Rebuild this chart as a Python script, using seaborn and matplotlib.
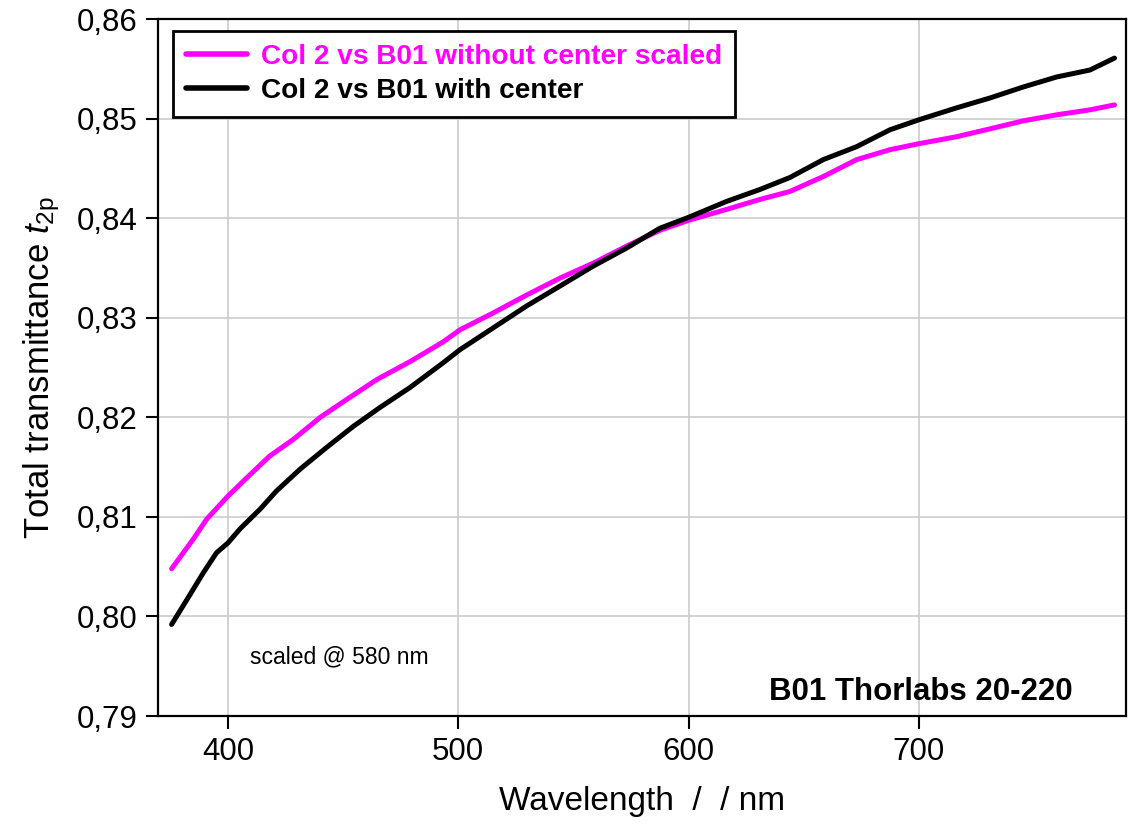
import pandas as pd
import numpy as np
import matplotlib
matplotlib.use('Agg')
import matplotlib.pyplot as plt
import seaborn as sns
from matplotlib.ticker import FuncFormatter

# values
wl_scaled = [375.5, 385, 390.8, 400, 408, 418, 428.4, 440, 451.5, 464.6, 479, 493.5,
             500.7, 515.2, 529.7, 544.2, 558.6, 573, 587.5, 600, 616.5, 631, 644,
             658.5, 673, 687.5, 700, 716.4, 731, 745.4, 759.8, 774.3, 785]
t_scaled = [0.8048, 0.8078, 0.8098, 0.8121, 0.8139, 0.8161, 0.8178, 0.8200, 0.8218,
            0.8238, 0.8256, 0.8276, 0.8288, 0.8305, 0.8323, 0.8340, 0.8355, 0.8372,
            0.8388, 0.8398, 0.8409, 0.8419, 0.8427, 0.8442, 0.8459, 0.8469, 0.8475,
            0.8482, 0.8490, 0.8498, 0.8504, 0.8509, 0.8514]

wl_center = [375.5, 383.5, 389.3, 395, 400, 405.2, 414, 421, 431.3, 442.9, 454.4, 466,
             479, 493.5, 500.7, 515.2, 529.7, 544.2, 558.6, 573, 587.5, 600, 616.5,
             631, 644, 658.5, 673, 687.5, 700, 716.4, 731, 745.4, 759.8, 774.3, 785]
t_center = [0.7992, 0.8022, 0.8044, 0.8064, 0.8074, 0.8088, 0.8108, 0.8126, 0.8148,
            0.8170, 0.8191, 0.8210, 0.8230, 0.8255, 0.8268, 0.8290, 0.8312, 0.8332,
            0.8352, 0.8370, 0.8390, 0.8401, 0.8417, 0.8429, 0.8441, 0.8459, 0.8472,
            0.8489, 0.8499, 0.8511, 0.8521, 0.8532, 0.8542, 0.8549, 0.8561]

label_scaled = 'Col 2 vs B01 without center scaled'
label_center = 'Col 2 vs B01 with center'
x_ticks = [400, 500, 600, 700]
y_ticks = [0.79, 0.80, 0.81, 0.82, 0.83, 0.84, 0.85, 0.86]

df = pd.concat([
    pd.DataFrame({'wl': wl_scaled, 't': t_scaled, 'series': label_scaled}),
    pd.DataFrame({'wl': wl_center, 't': t_center, 'series': label_center}),
])

sns.set_style('whitegrid')
plt.rcParams['font.family'] = ['Liberation Sans', 'DejaVu Sans']
plt.rcParams['text.color'] = 'black'
plt.rcParams['axes.labelcolor'] = 'black'
plt.rcParams['xtick.color'] = 'black'
plt.rcParams['ytick.color'] = 'black'
plt.rcParams['mathtext.fontset'] = 'custom'
plt.rcParams['mathtext.rm'] = 'Liberation Sans'
plt.rcParams['mathtext.it'] = 'Liberation Sans:italic'

colors = {label_scaled: '#ff00ff', label_center: '#000000'}

fig = plt.figure(figsize=(11.32, 8.35), dpi=100)
ax = fig.add_axes([0.1396, 0.1425, 0.8551, 0.8344])

sns.lineplot(data=df, x='wl', y='t', hue='series', palette=colors,
             hue_order=[label_scaled, label_center], linewidth=3.6, ax=ax,
             sort=False)

ax.set_xlim(369.6, 790)
ax.set_ylim(0.79, 0.86)
ax.set_xticks(x_ticks)
ax.set_yticks(y_ticks)
ax.yaxis.set_major_formatter(FuncFormatter(lambda v, p: f'{v:.2f}'.replace('.', ',')))
ax.grid(True, color='#cccccc', linewidth=1.2)
ax.tick_params(axis='both', direction='out', length=9, width=1.5, labelsize=22.5,
               color='black', labelcolor='black', pad=6, left=True, bottom=True)
for s in ax.spines.values():
    s.set_color('black')
    s.set_linewidth(1.6)

ax.set_xlabel('Wavelength  /  / nm', fontsize=24, labelpad=14, color='black')
ax.set_ylabel('Total transmittance $t_{\\mathrm{2p}}$', fontsize=25, labelpad=10,
              color='black')

leg = ax.legend(loc='upper left', bbox_to_anchor=(0.0155, 0.983), borderaxespad=0,
                prop={'weight': 'bold', 'size': 20.2}, frameon=True,
                fancybox=False, edgecolor='black', handlelength=2.2,
                handletextpad=0.5, borderpad=0.45, labelspacing=0.3,
                framealpha=1)
leg.get_frame().set_linewidth(2)
for txt, line in zip(leg.get_texts(), leg.get_lines()):
    txt.set_color(line.get_color())
    line.set_linewidth(4)

ax.text(0.095, 0.085, 'scaled @ 580 nm', transform=ax.transAxes, fontsize=16.5,
        va='center', ha='left', color='black')
ax.text(0.945, 0.023, 'B01 Thorlabs 20-220', transform=ax.transAxes, fontsize=22.5,
        fontweight='bold', ha='right', va='baseline', color='black')

fig.savefig('out.png', dpi=100)
